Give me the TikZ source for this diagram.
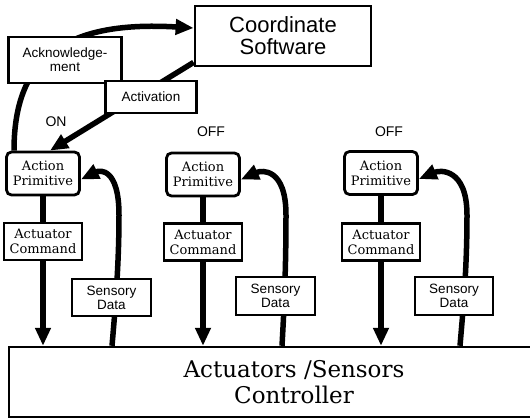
\documentclass[tikz,border=0pt]{standalone}
\usepackage{fontspec}
\setmainfont{DejaVu Serif}
\setsansfont{Liberation Sans}
\usetikzlibrary{arrows.meta,backgrounds,calc}

\begin{document}
\begin{tikzpicture}[x=1pt,y=-1pt,
  flow/.style={line width=5.5pt, -{Triangle[length=18pt,width=15pt]}},
  apbox/.style={draw, line width=2.8pt, rounded corners=5pt, fill=white,
    minimum width=73pt, minimum height=43pt, inner sep=0pt, align=center,
    font=\fontsize{13}{15}\selectfont},
  cmdbox/.style={draw, line width=2.6pt, fill=white, minimum width=78pt,
    minimum height=37pt, inner sep=0pt, align=center,
    font=\fontsize{13}{15}\selectfont},
  tagbox/.style={draw, line width=2.4pt, fill=white, inner sep=0pt, align=center,
    font=\sffamily\fontsize{13.5}{14}\selectfont},
  statelbl/.style={font=\sffamily\fontsize{14}{14}\selectfont}
]
\useasboundingbox (0,0) rectangle (530,420);
\clip (0,0) rectangle (530,420);

% top level
\node[draw, line width=2.8pt, fill=white, minimum width=176pt, minimum height=60pt,
  inner sep=0pt, align=center, font=\sffamily\fontsize{22}{22}\selectfont]
  (cs) at (283,36) {Coordinate\\Software};
\node[tagbox, minimum width=113pt, minimum height=46pt] (ack) at (65,60) {Acknowledge-\\ment};
\node[tagbox, minimum width=91pt, minimum height=32pt] (act) at (151,97) {Activation};

% activation states
\node[statelbl] (on)   at (56,122)  {ON};
\node[statelbl] (off2) at (211,132) {OFF};
\node[statelbl] (off3) at (389,132) {OFF};

% action primitives
\node[apbox] (ap1) at (43,173.5)  {Action\\Primitive};
\node[apbox] (ap2) at (203,174.5) {Action\\Primitive};
\node[apbox] (ap3) at (381,173)   {Action\\Primitive};

% actuator commands
\node[cmdbox] (cmd1) at (43,241.5) {Actuator\\Command};
\node[cmdbox] (cmd2) at (203,242)  {Actuator\\Command};
\node[cmdbox] (cmd3) at (381,242)  {Actuator\\Command};

% sensory data
\node[tagbox, minimum width=79pt, minimum height=37pt] (sen1) at (111.5,297.5) {Sensory\\Data};
\node[tagbox, minimum width=79pt, minimum height=38pt] (sen2) at (275.5,296)   {Sensory\\Data};
\node[tagbox, minimum width=78pt, minimum height=38pt] (sen3) at (454,296)     {Sensory\\Data};

% low level controller
\node[draw, line width=2.4pt, fill=white, minimum width=570pt, minimum height=70pt,
  inner sep=0pt, align=center, font=\fontsize{23}{26}\selectfont]
  (ctl) at (294,382) {Actuators /Sensors\\Controller};

\begin{scope}[on background layer]
  % acknowledgement and activation
  \draw[flow] ([xshift=-29pt]ap1.north) .. controls (14,62) and (60,20) .. ([yshift=8pt]cs.west);
  \draw[flow] ([yshift=5pt]cs.south west) -- ([xshift=7pt]ap1.north);

  % commands down to the controller
  \draw[flow] (ap1.south) -- (ap1.south |- ctl.north);
  \draw[flow] (ap2.south) -- (ap2.south |- ctl.north);
  \draw[flow] (ap3.south) -- (ap3.south |- ctl.north);

  % sensory feedback up to the primitives
  \draw[flow] ($(sen1.south |- ctl.north)+(0.5,0)$) .. controls (116,300) and (119,260) .. (119,215)
    .. controls (119,168) and (100,170) .. ([yshift=-6pt]ap1.east);
  \draw[flow] ($(sen2.south |- ctl.north)+(6.5,0)$) .. controls (284,310) and (286,270) .. (286,215)
    .. controls (286,168) and (262,170) .. ([yshift=-5pt]ap2.east);
  \draw[flow] ($(sen3.south |- ctl.north)+(6,0)$) .. controls (463,310) and (467,270) .. (467,215)
    .. controls (467,168) and (440,170) .. ([yshift=-6pt]ap3.east);
\end{scope}
\end{tikzpicture}
\end{document}
